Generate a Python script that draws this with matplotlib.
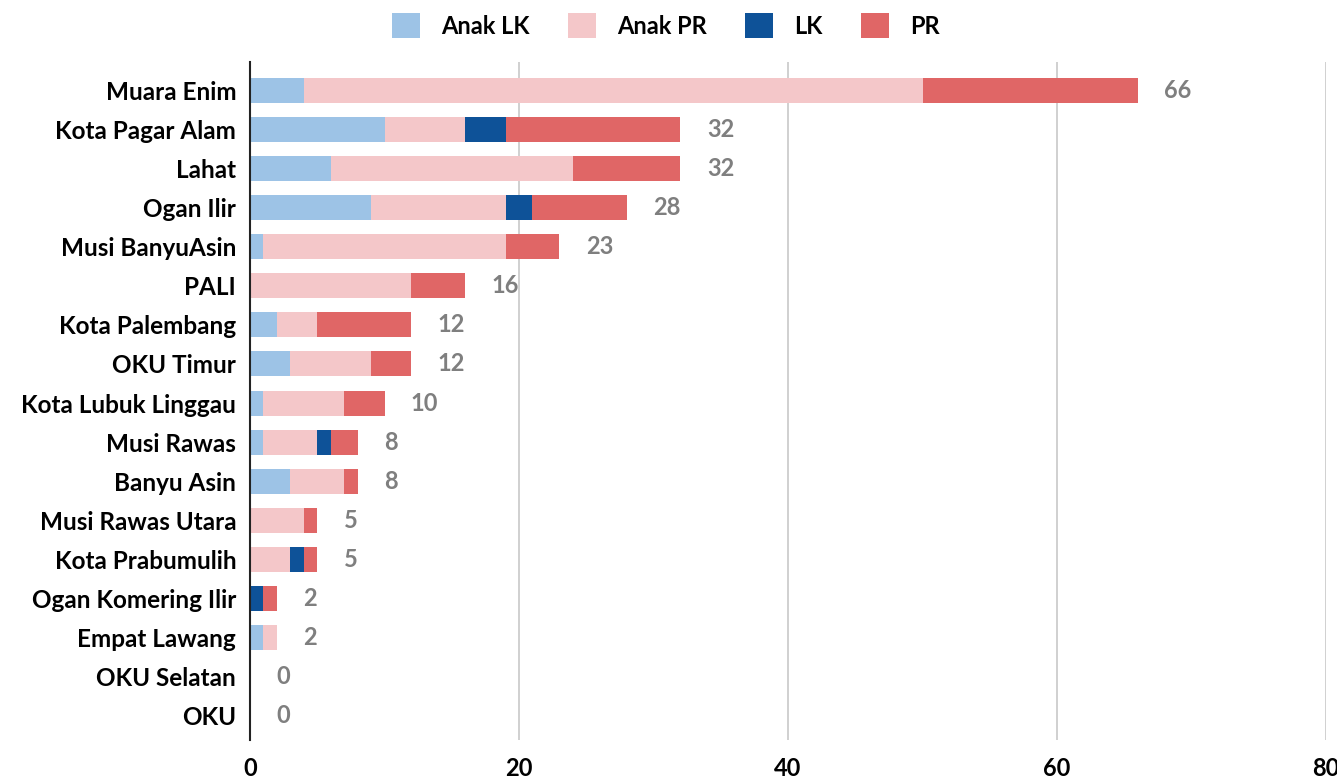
import numpy as np
import matplotlib.pyplot as plt

# data (top to bottom as in the chart)
regions = ['Muara Enim', 'Kota Pagar Alam', 'Lahat', 'Ogan Ilir', 'Musi BanyuAsin',
           'PALI', 'Kota Palembang', 'OKU Timur', 'Kota Lubuk Linggau', 'Musi Rawas',
           'Banyu Asin', 'Musi Rawas Utara', 'Kota Prabumulih', 'Ogan Komering Ilir',
           'Empat Lawang', 'OKU Selatan', 'OKU']
anak_lk = [4, 10, 6, 9, 1, 0, 2, 3, 1, 1, 3, 0, 0, 0, 1, 0, 0]
anak_pr = [46, 6, 18, 10, 18, 12, 3, 6, 6, 4, 4, 4, 3, 0, 1, 0, 0]
lk = [0, 3, 0, 2, 0, 0, 0, 0, 0, 1, 0, 0, 1, 1, 0, 0, 0]
pr = [16, 13, 8, 7, 4, 4, 7, 3, 3, 2, 1, 1, 1, 1, 0, 0, 0]

series = [('Anak LK', anak_lk, '#9dc3e6'),
          ('Anak PR', anak_pr, '#f4c7c9'),
          ('LK', lk, '#0e5298'),
          ('PR', pr, '#e06666')]

plt.rcParams['font.family'] = ['Lato', 'DejaVu Sans']
plt.rcParams['font.weight'] = 'bold'

fig = plt.figure(figsize=(13.37, 7.80), dpi=100)
ax = fig.add_axes([0.187, 0.0513, 0.8048, 0.869])

y = np.arange(len(regions))
left = np.zeros(len(regions))
for name, vals, color in series:
    vals = np.array(vals, dtype=float)
    ax.barh(y, vals, left=left, height=0.64, color=color, label=name, zorder=3)
    left += vals

for yi, tot in zip(y, left):
    ax.annotate(f'{int(tot)}', (tot, yi), xytext=(19, 0), textcoords='offset points',
                ha='left', va='center', fontsize=17, fontweight='bold', color='#7f7f7f')

ax.set_xlim(0, 80)
ax.set_ylim(16.62, -0.72)
ax.set_xticks([0, 20, 40, 60, 80])
ax.set_yticks(y)
ax.set_yticklabels(regions)
ax.tick_params(axis='y', length=0, labelsize=17.5, pad=10)
ax.tick_params(axis='x', length=0, labelsize=17, pad=12)
ax.grid(axis='x', color='#c8c8c8', linewidth=1.2, zorder=0)
for s in ['top', 'right', 'bottom']:
    ax.spines[s].set_visible(False)
ax.spines['left'].set_color('#222222')
ax.spines['left'].set_linewidth(1.5)
ax.spines['left'].set_zorder(4)

fig.legend(loc='upper center', bbox_to_anchor=(0.498, 1.01), ncol=4, frameon=False,
           fontsize=17, handlelength=1.2, handleheight=1.2, columnspacing=1.6,
           handletextpad=0.9)

fig.savefig('out.png', dpi=100)
